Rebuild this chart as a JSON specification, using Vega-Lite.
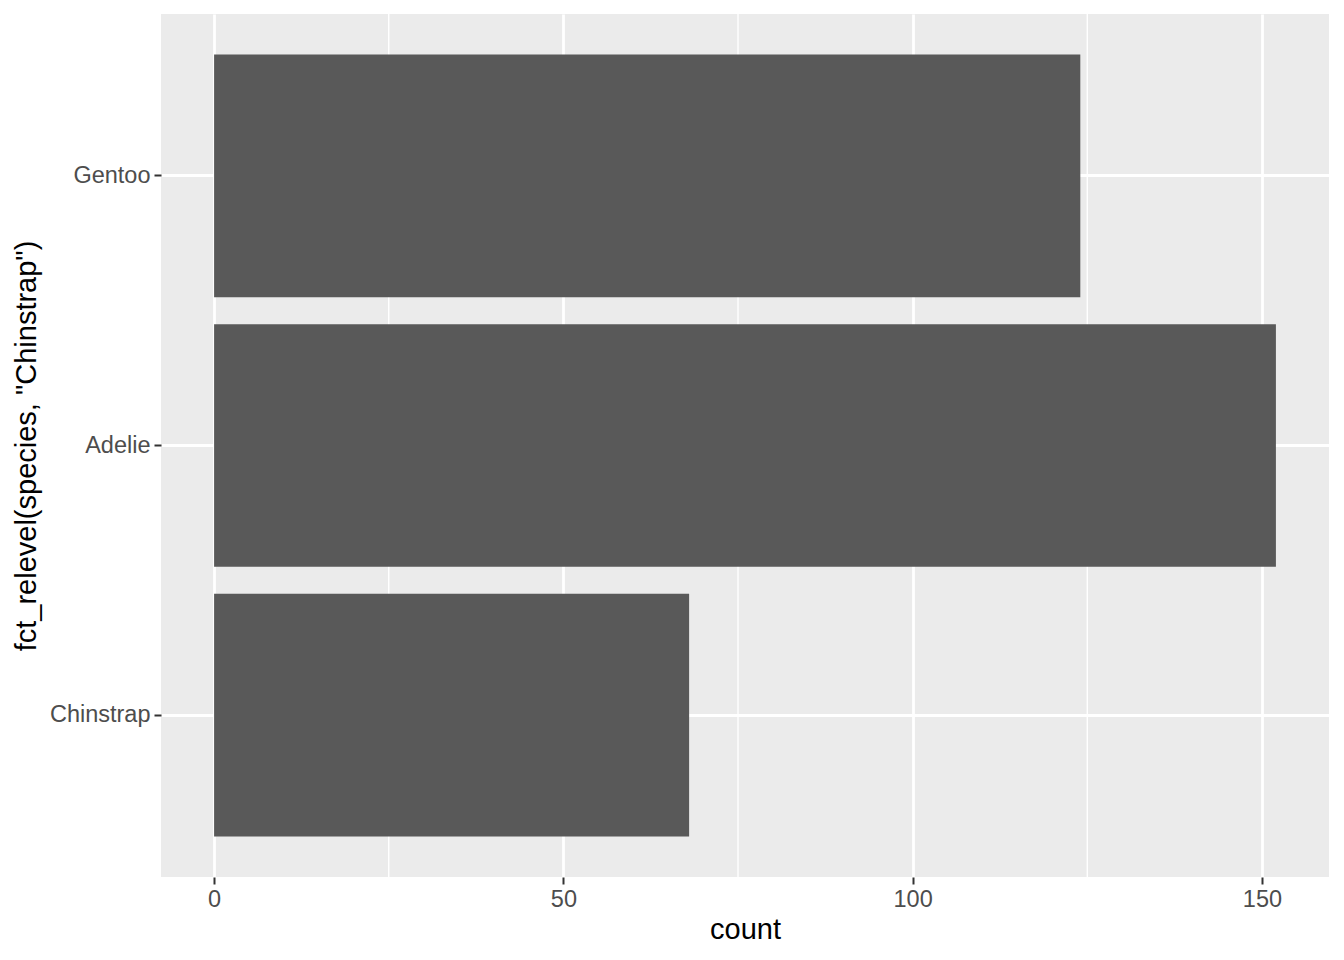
{
  "$schema": "https://vega.github.io/schema/vega-lite/v6.json",
  "width": 1168,
  "height": 863,
  "autosize": {"type": "none"},
  "padding": {"left": 161, "top": 14, "right": 15, "bottom": 83},
  "background": "white",
  "config": {
    "view": {"fill": "#EBEBEB", "stroke": null},
    "font": "Liberation Sans"
  },
  "layer": [
    {
      "data": {"values": [{"minor": 25}, {"minor": 75}, {"minor": 125}]},
      "mark": {"type": "rule", "color": "white", "strokeWidth": 1.4},
      "encoding": {
        "x": {
          "field": "minor",
          "type": "quantitative",
          "scale": {"domain": [-7.6, 159.6], "nice": false, "zero": false},
          "axis": {
            "values": [0, 50, 100, 150],
            "grid": true, "gridColor": "white", "gridWidth": 2.8,
            "domain": false,
            "tickColor": "#333333", "tickWidth": 2, "tickSize": 7,
            "labelColor": "#4D4D4D", "labelFontSize": 23.5, "labelPadding": 3,
            "title": "count", "titleFontSize": 29, "titleColor": "black",
            "titleFontWeight": "normal", "titlePadding": 5
          }
        }
      }
    },
    {
      "data": {
        "values": [
          {"species": "Gentoo", "count": 124},
          {"species": "Adelie", "count": 152},
          {"species": "Chinstrap", "count": 68}
        ]
      },
      "mark": {"type": "bar", "color": "#595959"},
      "encoding": {
        "y": {
          "field": "species",
          "type": "nominal",
          "sort": ["Gentoo", "Adelie", "Chinstrap"],
          "scale": {"paddingInner": 0.1, "paddingOuter": 0.15},
          "axis": {
            "grid": true, "gridColor": "white", "gridWidth": 2.8,
            "bandPosition": 0.5,
            "domain": false,
            "tickColor": "#333333", "tickWidth": 2, "tickSize": 7,
            "labelColor": "#4D4D4D", "labelFontSize": 23.5, "labelPadding": 4,
            "title": "fct_relevel(species, \"Chinstrap\")",
            "titleFontSize": 29, "titleColor": "black",
            "titleFontWeight": "normal", "titlePadding": 8
          }
        },
        "x": {
          "field": "count",
          "type": "quantitative",
          "scale": {"domain": [-7.6, 159.6], "nice": false, "zero": false},
          "axis": {
            "values": [0, 50, 100, 150],
            "grid": true, "gridColor": "white", "gridWidth": 2.8,
            "domain": false,
            "tickColor": "#333333", "tickWidth": 2, "tickSize": 7,
            "labelColor": "#4D4D4D", "labelFontSize": 23.5, "labelPadding": 3,
            "title": "count", "titleFontSize": 29, "titleColor": "black",
            "titleFontWeight": "normal", "titlePadding": 5
          }
        }
      }
    }
  ]
}
